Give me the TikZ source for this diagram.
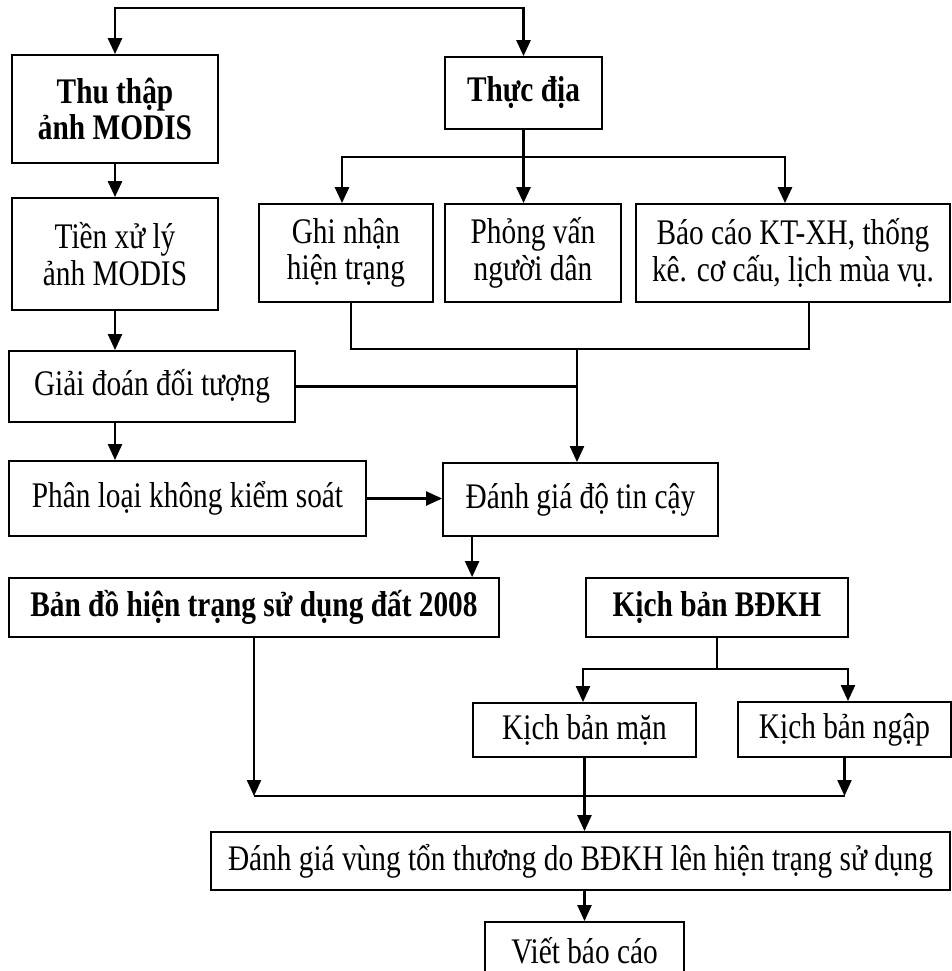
\documentclass[tikz,border=0pt]{standalone}
\usepackage{fontspec}
\setmainfont[FakeStretch=0.815]{Liberation Serif}
\usetikzlibrary{arrows.meta}

\begin{document}
\begin{tikzpicture}[>={Triangle[length=8pt, width=7pt]}, x=0.5pt, y=-0.5pt]
	\tikzstyle{format} = [draw, line width=0.9pt, align=center, inner sep=0pt, font=\fontsize{18}{18.2}\selectfont]
	\tikzstyle{title} = [format, font=\fontsize{18}{18.2}\selectfont\bfseries]
	\tikzstyle{link} = [line width=1.1pt]
	\tikzstyle{heavy} = [line width=1.4pt]

	\clip (0,0) rectangle (952,971);

	\path
		node[title, minimum width=103pt, minimum height=54pt] (thu) at (115,109) {Thu thập\\ảnh MODIS}
		node[title, minimum width=78.5pt, minimum height=36pt] (thuc) at (523.5,93) {Thực địa}
		node[format, minimum width=103pt, minimum height=56pt] (tien) at (115,254) {Tiền xử lý\\ảnh MODIS}
		node[format, minimum width=87pt, minimum height=49pt] (ghi) at (346,253) {Ghi nhận\\hiện trạng}
		node[format, minimum width=88pt, minimum height=49pt] (phong) at (533,253) {Phỏng vấn\\người dân}
		node[format, minimum width=157pt, minimum height=49pt] (bao) at (793,253) {Báo cáo KT-XH, thống\\kê. cơ cấu, lịch mùa vụ.}
		node[format, minimum width=143pt, minimum height=35.5pt] (giai) at (152,386.5) {Giải đoán đối tượng}
		node[format, minimum width=178.5pt, minimum height=37.5pt] (phan) at (187.5,498.5) {Phân loại không kiểm soát}
		node[format, minimum width=137.5pt, minimum height=36.5pt] (dg) at (580.5,499.5) {Đánh giá độ tin cậy}
		node[title, minimum width=245pt, minimum height=29.5pt] (ban) at (254,607.5) {Bản đồ hiện trạng sử dụng đất 2008}
		node[title, minimum width=131pt, minimum height=29.5pt] (bdkh) at (717,607.5) {Kịch bản BĐKH}
		node[format, minimum width=111.5pt, minimum height=27pt] (man) at (584.5,730) {Kịch bản mặn}
		node[format, minimum width=106.5pt, minimum height=27.5pt] (ngap) at (844.5,729.5) {Kịch bản ngập}
		node[format, minimum width=369.5pt, minimum height=29pt] (dgv) at (580.5,861) {Đánh giá vùng tổn thương do BĐKH lên hiện trạng sử dụng}
		node[format, minimum width=99.5pt, minimum height=29pt] (viet) at (584.5,951) {Viết báo cáo}
	;

	\coordinate (top) at (320,8);
	\coordinate (brL) at (342,157);
	\coordinate (brR) at (785,157);
	\coordinate (mL) at (351,349);
	\coordinate (mM) at (577,349);
	\coordinate (mR) at (809,349);
	\coordinate (dgout) at ([xshift=15pt]dg.south west);
	\coordinate (spL) at (583,669);
	\coordinate (spR) at (848,669);
	\coordinate (bL) at (252,796);
	\coordinate (bR) at (846,796);

	\draw[<->, heavy] (thu.north) |- (top) -| (thuc.north);
	\draw[->, heavy] (thu) -- (tien);
	\draw[->, link] (tien.south) -- (tien.south |- giai.north);
	\draw[->, link] (tien.south |- giai.south) -- (tien.south |- phan.north);

	\draw[->, heavy] (thuc.south) -- (thuc.south |- phong.north);
	\draw[<->, heavy] (brL |- ghi.north) -- (brL) -- (brR) -- (brR |- bao.north);
	\draw[link] (mL |- ghi.south) -- (mL) -- (mR) -- (mR |- bao.south);
	\draw[link] (giai.east) -- (giai.east -| mM);
	\draw[->, link] (mM) -- (mM |- dg.north);
	\draw[->, link] (phan.east) -- (phan.east -| dg.west);
	\draw[->, link] (dgout) -- (dgout |- ban.north);

	\draw[link] (bdkh.south) -- (bdkh.south |- spL);
	\draw[<->, link] (spL |- man.north) -- (spL) -- (spR) -- (spR |- ngap.north);
	\draw[->, link] (ban.south) -- (ban.south |- bL);
	\draw[->, link] (ngap.south) -- (ngap.south |- bR);
	\draw[link] (ban.south |- bL) -- (ngap.south |- bR);
	\draw[->, link] (man.south) -- (man.south |- dgv.north);
	\draw[->, link] (man.south |- dgv.south) -- (man.south |- viet.north);
\end{tikzpicture}
\end{document}
